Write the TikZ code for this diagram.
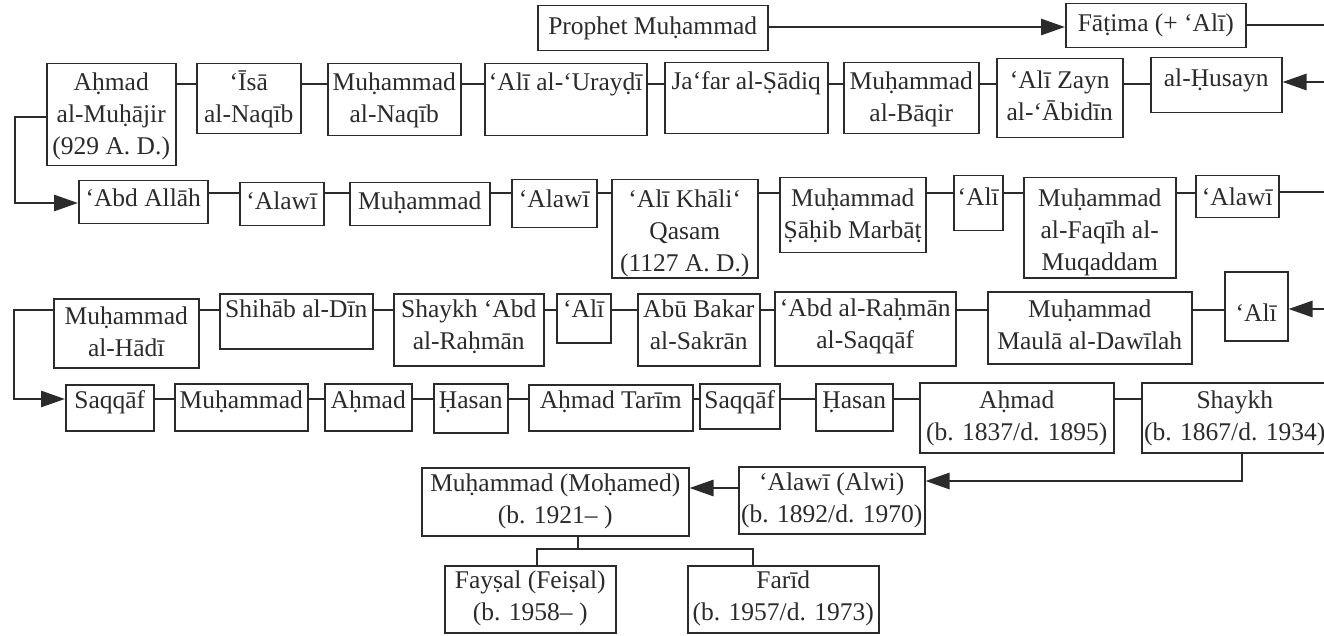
\documentclass[tikz,border=0pt]{standalone}
\usepackage{fontspec}
\setmainfont{Liberation Serif}
\usetikzlibrary{arrows.meta,calc}
\definecolor{ink}{HTML}{2B2B2B}
\tikzset{
  box/.style={draw=ink, line width=1.5pt, inner sep=0pt, anchor=north west, text=ink,
    font=\fontsize{25.5}{32}\selectfont},
  link/.style={draw=ink, line width=2.8pt},
  arr/.style={link, -{Triangle[length=24pt,width=16pt]}},
}
% \bx[pad]{name}{x1}{y1}{x2}{y2}{text}
\newcommand\bx[7][26]{%
  \pgfmathsetmacro\bw{#5-#3}%
  \pgfmathsetmacro\bh{#6-#4}%
  \node[box, minimum width=\bw pt, minimum height=\bh pt] (#2) at (#3,#4)
    {\parbox[c][\bh pt][t]{\bw pt}{\centering\rule{0pt}{#1pt}#7}};}
\begin{document}
\begin{tikzpicture}[x=1pt,y=-1pt]
\fill[white] (0,0) rectangle (1324,636);
\useasboundingbox (0,0) rectangle (1324,636);
% row 0
\bx[29]{pm}{537}{5}{767}{50}{Prophet Muḥammad}
\bx[28]{fat}{1065}{3}{1245}{47}{Fāṭima (+ ‘Alī)}
\coordinate (r0) at (0,27);
\draw[arr] (pm.east |- r0) -- (fat.west |- r0);
\coordinate (x0) at (1324,25);
\draw[link] (fat.east |- x0) -- (x0);
% row 1
\bx[27]{a1}{46}{63}{175}{165}{Aḥmad\\al-Muḥājir\\(929 A. D.)}
\bx[27]{a2}{196}{63}{300}{133}{‘Īsā\\al-Naqīb}
\bx[27]{a3}{327}{63}{460}{135}{Muḥammad\\al-Naqīb}
\bx[27]{a4}{484}{63}{646}{135}{‘Alī al-‘Urayḍī}
\bx[27]{a5}{664}{62}{827}{133}{Ja‘far al-Ṣādiq}
\bx[27]{a6}{843}{62}{978}{133}{Muḥammad\\al-Bāqir}
\bx[30]{a7}{996}{58}{1122}{137}{‘Alī Zayn\\al-‘Ābidīn}
\bx[29]{a8}{1150}{57}{1281}{112}{al-Ḥusayn}
\coordinate (r1) at (0,84);
\foreach \p/\q in {a1/a2,a2/a3,a3/a4,a4/a5,a5/a6,a6/a7,a7/a8}
  \draw[link] (\p.east |- r1) -- (\q.west |- r1);
\coordinate (x1) at (1324,82);
\draw[arr] (x1) -- (a8.east |- x1);
% row 2
\bx[26]{b1}{78}{180}{207}{223}{‘Abd Allāh}
\bx[27]{b2}{239}{182}{323}{225}{‘Alawī}
\bx[27]{b3}{349}{182}{489}{225}{Muḥammad}
\bx[28]{b4}{511}{179}{596}{227}{‘Alawī}
\bx[28]{b5}{611}{179}{757}{277}{‘Alī Khāli‘\\Qasam\\(1127 A. D.)}
\bx[29]{b6}{779}{177}{925}{252}{Muḥammad\\Ṣāḥib Marbāṭ}
\bx[30]{b7}{953}{175}{1002}{230}{‘Alī}
\bx[29]{b8}{1023}{177}{1175}{277}{Muḥammad\\al-Faqīh al-\\Muqaddam}
\bx[30]{b9}{1195}{175}{1278}{217}{‘Alawī}
\coordinate (r2) at (0,193);
\foreach \p/\q in {b1/b2,b2/b3,b3/b4,b4/b5,b5/b6,b6/b7,b7/b8,b8/b9}
  \draw[link] (\p.east |- r2) -- (\q.west |- r2);
\coordinate (x2) at (1324,192);
\draw[link] (b9.east |- x2) -- (x2);
\coordinate (k1) at (15,117);
\coordinate (k1b) at (15,203);
\draw[arr] (a1.west |- k1) -- (k1) -- (k1b) -- (b1.west |- k1b);
% row 3
\bx[26]{c1}{53}{298}{198}{367}{Muḥammad\\al-Hādī}
\bx[24]{c2}{219}{293}{372}{348}{Shihāb al-Dīn}
\bx[24]{c3}{393}{293}{543}{365}{Shaykh ‘Abd\\al-Raḥmān}
\bx[24]{c4}{556}{293}{610}{342}{‘Alī}
\bx[24]{c5}{637}{293}{759}{365}{Abū Bakar\\al-Sakrān}
\bx[25]{c6}{774}{291}{955}{365}{‘Abd al-Raḥmān\\al-Saqqāf}
\bx[26]{c7}{987}{291}{1191}{363}{Muḥammad\\Maulā al-Dawīlah}
\bx[50]{c8}{1224}{271}{1287}{340}{‘Alī}
\coordinate (r3) at (0,310);
\foreach \p/\q in {c1/c2,c2/c3,c3/c4,c4/c5,c5/c6,c6/c7,c7/c8}
  \draw[link] (\p.east |- r3) -- (\q.west |- r3);
\coordinate (x3) at (1324,309);
\draw[arr] (x3) -- (c8.east |- x3);
\coordinate (k2) at (14,310);
\coordinate (k2b) at (14,399);
% row 4
\bx[24]{d1}{65}{384}{153}{430}{Saqqāf}
\bx[25]{d2}{174}{383}{307}{430}{Muḥammad}
\bx[25]{d3}{324}{383}{411}{430}{Aḥmad}
\bx[25]{d4}{433}{383}{507}{432}{Ḥasan}
\bx[24]{d5}{528}{384}{692}{430}{Aḥmad Tarīm}
\bx[25]{d6}{699}{383}{779}{428}{Saqqāf}
\bx[25]{d7}{815}{383}{892}{430}{Ḥasan}
\bx[26]{d8}{919}{382}{1113}{452}{Aḥmad\\(b. 1837/d. 1895)}
\bx[26]{d9}{1141}{382}{1327}{452}{Shaykh\\(b. 1867/d. 1934)}
\draw[arr] (c1.west |- k2) -- (k2) -- (k2b) -- (d1.west |- k2b);
\coordinate (r4) at (0,399);
\foreach \p/\q in {d1/d2,d2/d3,d3/d4,d4/d5,d5/d6,d6/d7,d7/d8,d8/d9}
  \draw[link] (\p.east |- r4) -- (\q.west |- r4);
% row 5
\bx[24]{e1}{421}{467}{688}{535}{Muḥammad (Moḥamed)\\(b. 1921– )}
\bx[24]{e2}{738}{466}{924}{533}{‘Alawī (Alwi)\\(b. 1892/d. 1970)}
\coordinate (k3) at (1242,481);
\draw[arr] (d9.south -| k3) -- (k3) -- (e2.east |- k3);
\coordinate (r5) at (0,488);
\draw[arr] (e2.west |- r5) -- (e1.east |- r5);
% row 6
\bx[23]{f1}{444}{565}{615}{632}{Fayṣal (Feiṣal)\\(b. 1958– )}
\bx[23]{f2}{687}{565}{878}{632}{Farīd\\(b. 1957/d. 1973)}
\coordinate (t0) at (578,549);
\coordinate (t1) at (537,549);
\coordinate (t2) at (753,549);
\draw[link] (e1.south -| t0) -- (t0);
\draw[link] (f1.north -| t1) -- (t1) -- (t2) -- (f2.north -| t2);
\end{tikzpicture}
\end{document}
